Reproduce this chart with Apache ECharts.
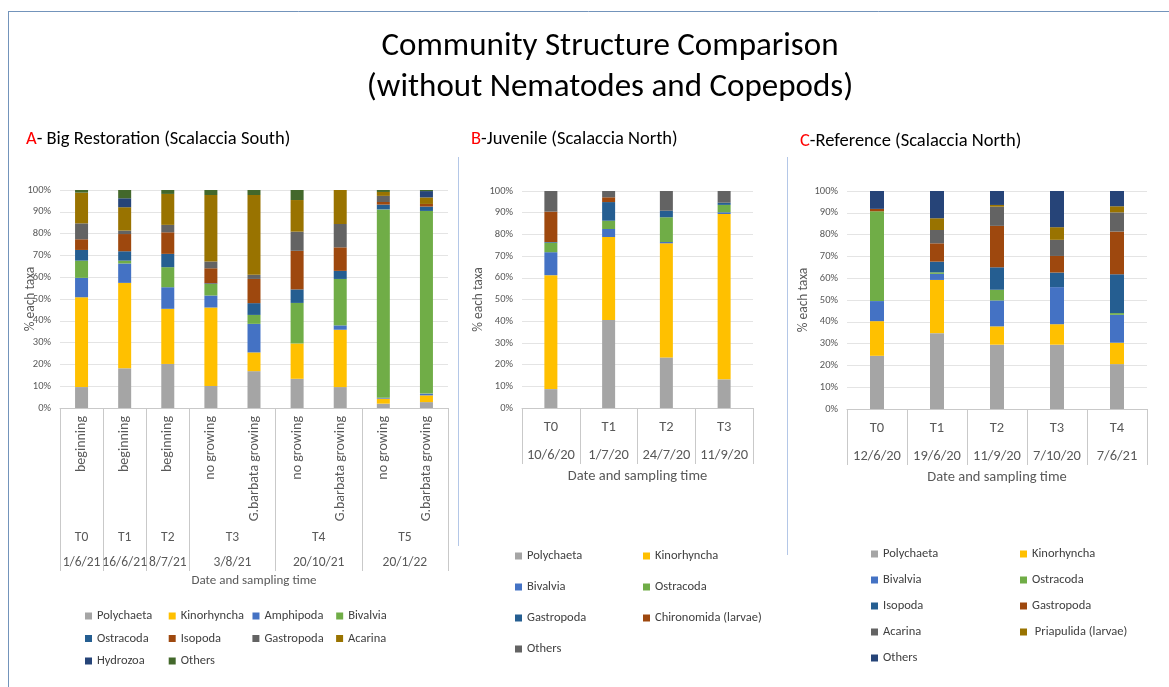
<!DOCTYPE html>
<html>
<head>
<meta charset="utf-8">
<script src="https://cdn.jsdelivr.net/npm/echarts@6/dist/echarts.min.js"></script>
<style>
  html, body { margin: 0; padding: 0; background: #ffffff; }
  #chart { width: 1169px; height: 687px; }
</style>
</head>
<body>
<div id="chart"></div>
<script>
const FONT = 'Carlito, Lato, "Noto Sans", sans-serif';

// ---------- A - Big Restoration (Scalaccia South) ----------
const taxaA = ['Polychaeta', 'Kinorhyncha', 'Amphipoda', 'Bivalvia', 'Ostracoda',
               'Isopoda', 'Gastropoda', 'Acarina', 'Hydrozoa', 'Others'];
const samplesA = ['beginning', 'beginning', 'beginning', 'no growing', 'G.barbata growing',
                  'no growing', 'G.barbata growing', 'no growing', 'G.barbata growing'];
const timesA = ['T0', 'T1', 'T2', 'T3', 'T4', 'T5'];
const datesA = ['1/6/21', '16/6/21', '8/7/21', '3/8/21', '20/10/21', '20/1/22'];
const samplesPerTimeA = [1, 1, 1, 2, 2, 2];
// percentage of each taxon (rows follow taxaA, columns follow samplesA)
const valuesA = [
  [9.6, 18.2, 20.2, 10.1, 16.9, 13.4, 9.6, 2.0, 2.7],
  [41.2, 39.2, 25.3, 36.0, 8.6, 16.2, 26.3, 2.3, 3.1],
  [8.9, 8.9, 9.9, 5.5, 13.1, 0, 2.0, 0.4, 0.8],
  [7.9, 1.3, 9.2, 5.3, 4.1, 18.6, 21.3, 86.4, 83.8],
  [4.9, 4.3, 6.1, 0.3, 5.4, 6.2, 3.7, 2.2, 2.0],
  [4.9, 7.9, 9.9, 6.9, 11.1, 17.7, 10.8, 1.2, 1.2],
  [7.3, 1.6, 3.4, 3.1, 1.9, 8.8, 10.7, 2.8, 0],
  [14.1, 10.7, 14.2, 30.5, 36.6, 14.5, 15.6, 1.8, 3.0],
  [0, 4.1, 0, 0, 0, 0, 0, 0, 2.9],
  [1.2, 3.8, 1.8, 2.3, 2.3, 4.6, 0, 0.9, 0.5]
];
const colorsA = ['#A5A5A5', '#FFC000', '#4472C4', '#70AD47', '#255E91',
                 '#9E480E', '#636363', '#997300', '#264478', '#43682B'];

// ---------- B - Juvenile (Scalaccia North) ----------
const taxaB = ['Polychaeta', 'Kinorhyncha', 'Bivalvia', 'Ostracoda', 'Gastropoda',
               'Chironomida (larvae)', 'Others'];
const timesB = ['T0', 'T1', 'T2', 'T3'];
const datesB = ['10/6/20', '1/7/20', '24/7/20', '11/9/20'];
const valuesB = [
  [8.7, 40.6, 23.3, 13.2],
  [52.5, 38.2, 52.6, 76.2],
  [10.6, 3.7, 0.6, 0.8],
  [4.4, 3.8, 11.4, 3.4],
  [0.3, 8.6, 3.0, 1.0],
  [14.0, 2.2, 0, 0],
  [9.5, 2.9, 9.1, 5.4]
];
const colorsB = ['#A5A5A5', '#FFC000', '#4472C4', '#70AD47', '#255E91', '#9E480E', '#636363'];

// ---------- C - Reference (Scalaccia North) ----------
const taxaC = ['Polychaeta', 'Kinorhyncha', 'Bivalvia', 'Ostracoda', 'Isopoda',
               'Gastropoda', 'Acarina', ' Priapulida (larvae)', 'Others'];
const timesC = ['T0', 'T1', 'T2', 'T3', 'T4'];
const datesC = ['12/6/20', '19/6/20', '11/9/20', '7/10/20', '7/6/21'];
const valuesC = [
  [24.4, 34.8, 29.5, 29.5, 20.6],
  [15.9, 24.4, 8.4, 9.4, 9.8],
  [9.2, 2.8, 11.9, 17.0, 12.8],
  [41.2, 0.7, 4.9, 0, 0.8],
  [0, 4.9, 10.3, 6.7, 17.8],
  [1.1, 8.4, 19.0, 7.6, 19.6],
  [0, 6.1, 8.8, 7.4, 8.8],
  [0, 5.4, 0.8, 5.8, 2.8],
  [8.2, 12.5, 6.4, 16.6, 7.0]
];
const colorsC = ['#A5A5A5', '#FFC000', '#4472C4', '#70AD47', '#255E91',
                 '#9E480E', '#636363', '#997300', '#264478'];

const yTicks = [0, 10, 20, 30, 40, 50, 60, 70, 80, 90, 100];

// ---------- shared styling helpers ----------
const AXIS_GREY = '#595959';
const BOX_GREY = '#C9C9C9';

function percentAxis(gridIndex, nameGap, moveOverlap) {
  return {
    type: 'value', gridIndex, min: yTicks[0], max: yTicks[yTicks.length - 1],
    interval: yTicks[1] - yTicks[0],
    name: '% each taxa', nameLocation: 'middle', nameGap, nameMoveOverlap: moveOverlap,
    nameTextStyle: { fontFamily: FONT, fontSize: 13.5, color: AXIS_GREY },
    axisLine: { show: false }, axisTick: { show: false },
    axisLabel: { formatter: '{value}%', fontFamily: FONT, fontSize: 10.5, color: AXIS_GREY, margin: 9 },
    splitLine: { lineStyle: { color: '#E4E4E4', width: 1 } }
  };
}

function stackSeries(taxa, values, colors, xIndex, yIndex, stack, barWidth) {
  return taxa.map((name, i) => ({
    type: 'bar', name, stack, xAxisIndex: xIndex, yAxisIndex: yIndex,
    barWidth, data: values[i], itemStyle: { color: colors[i] }, emphasis: { disabled: true }
  }));
}

function legendFor(taxa, colors, left, top, colW, rowH, cols) {
  const gap = rowH - 14;
  return {
    left, top, padding: 0, orient: 'horizontal', icon: 'rect',
    itemWidth: 7, itemHeight: 7, itemGap: gap,
    width: cols * colW - gap + 40,
    selectedMode: false,
    textStyle: { fontFamily: FONT, fontSize: 12.5, color: '#404040', width: colW - 12 - gap, lineHeight: 14 },
    data: taxa.map((name, i) => ({ name, itemStyle: { color: colors[i] } }))
  };
}

// time-group boundaries and centres for panel A (in sample units)
const boundsA = [0];
samplesPerTimeA.forEach(n => boundsA.push(boundsA[boundsA.length - 1] + n));
const centresA = samplesPerTimeA.map((n, i) => boundsA[i] + n / 2);
const labelAt = (labels) => (v) => {
  const k = centresA.findIndex(c => Math.abs(c - v) < 1e-6);
  return k >= 0 ? labels[k] : '';
};

const catLabel = { fontFamily: FONT, color: AXIS_GREY, interval: 0 };
const subTitleStyle = {
  fontFamily: FONT, fontSize: 18.5, fontWeight: 'normal', color: '#000',
  rich: { r: { fontFamily: FONT, fontSize: 18.5, color: '#FF0000' } }
};

const option = {
  animation: false,
  backgroundColor: '#ffffff',
  textStyle: { fontFamily: FONT },
  title: [
    { text: '{r|A}- Big Restoration (Scalaccia South)', left: 26, top: 130, padding: 0, textStyle: subTitleStyle },
    { text: '{r|B}-Juvenile (Scalaccia North)', left: 471, top: 130, padding: 0, textStyle: subTitleStyle },
    { text: '{r|C}-Reference (Scalaccia North)', left: 800, top: 132, padding: 0, textStyle: subTitleStyle }
  ],
  graphic: [
    { type: 'text', silent: true, style: {
        text: 'Community Structure Comparison\n(without Nematodes and Copepods)',
        x: 610, y: 26, align: 'center', verticalAlign: 'top',
        fontFamily: FONT, fontSize: 33, lineHeight: 41, fill: '#000' } },
    { type: 'line', silent: true, shape: { x1: 8, y1: 11.5, x2: 1169, y2: 11.5 },
      style: { stroke: '#7394BB', lineWidth: 1 } },
    { type: 'line', silent: true, shape: { x1: 8.5, y1: 11, x2: 8.5, y2: 687 },
      style: { stroke: '#7394BB', lineWidth: 1 } },
    { type: 'line', silent: true, shape: { x1: 458.5, y1: 157, x2: 458.5, y2: 546 },
      style: { stroke: '#B4C7E7', lineWidth: 1 } },
    { type: 'line', silent: true, shape: { x1: 787.5, y1: 157, x2: 787.5, y2: 555 },
      style: { stroke: '#B4C7E7', lineWidth: 1 } }
  ],
  legend: [
    legendFor(taxaA, colorsA, 85, 609, 83.7, 22.5, 4),
    legendFor(taxaB, colorsB, 515, 549, 128, 31, 2),
    legendFor(taxaC, colorsC, 871, 547, 149, 26, 2)
  ],
  grid: [
    { left: 60, top: 190, width: 388, height: 218 },
    { left: 522, top: 191, width: 231, height: 217 },
    { left: 847, top: 191, width: 300, height: 218 }
  ],
  xAxis: [
    // A: sample names (rotated)
    { type: 'category', gridIndex: 0, data: samplesA, position: 'bottom',
      axisLine: { lineStyle: { color: BOX_GREY } }, axisTick: { show: false },
      axisLabel: { ...catLabel, fontSize: 14, rotate: 90, margin: 8 } },
    // A: sampling times with group separators
    { type: 'value', gridIndex: 0, min: 0, max: boundsA[boundsA.length - 1], position: 'bottom',
      axisLine: { show: false }, splitLine: { show: false },
      axisTick: { show: true, customValues: boundsA, length: 163, lineStyle: { color: BOX_GREY } },
      axisLabel: { ...catLabel, fontSize: 13.5, customValues: centresA, formatter: labelAt(timesA), margin: 123 } },
    // A: dates
    { type: 'value', gridIndex: 0, min: 0, max: boundsA[boundsA.length - 1], position: 'bottom',
      axisLine: { show: false }, splitLine: { show: false }, axisTick: { show: false },
      axisLabel: { ...catLabel, fontSize: 13.5, customValues: centresA, formatter: labelAt(datesA), margin: 148 },
      name: 'Date and sampling time', nameLocation: 'middle', nameGap: 166,
      nameTextStyle: { fontFamily: FONT, fontSize: 13, color: AXIS_GREY } },
    // B: times
    { type: 'category', gridIndex: 1, data: timesB, position: 'bottom',
      axisLine: { lineStyle: { color: BOX_GREY } },
      axisTick: { show: true, length: 56, lineStyle: { color: BOX_GREY } },
      axisLabel: { ...catLabel, fontSize: 14.5, margin: 12 } },
    // B: dates
    { type: 'category', gridIndex: 1, data: datesB, position: 'bottom',
      axisLine: { show: false }, axisTick: { show: false },
      axisLabel: { ...catLabel, fontSize: 14.5, margin: 40 },
      name: 'Date and sampling time', nameLocation: 'middle', nameGap: 61,
      nameTextStyle: { fontFamily: FONT, fontSize: 14.5, color: AXIS_GREY } },
    // C: times
    { type: 'category', gridIndex: 2, data: timesC, position: 'bottom',
      axisLine: { lineStyle: { color: BOX_GREY } },
      axisTick: { show: true, length: 56, lineStyle: { color: BOX_GREY } },
      axisLabel: { ...catLabel, fontSize: 14.5, margin: 12 } },
    // C: dates
    { type: 'category', gridIndex: 2, data: datesC, position: 'bottom',
      axisLine: { show: false }, axisTick: { show: false },
      axisLabel: { ...catLabel, fontSize: 14.5, margin: 40 },
      name: 'Date and sampling time', nameLocation: 'middle', nameGap: 61,
      nameTextStyle: { fontFamily: FONT, fontSize: 14.5, color: AXIS_GREY } }
  ],
  yAxis: [percentAxis(0, 22, false), percentAxis(1, 34, true), percentAxis(2, 34, true)],
  series: [
    ...stackSeries(taxaA, valuesA, colorsA, 0, 0, 'A', 13),
    ...stackSeries(taxaB, valuesB, colorsB, 3, 1, 'B', 13),
    ...stackSeries(taxaC, valuesC, colorsC, 5, 2, 'C', 14)
  ]
};

const chart = echarts.init(document.getElementById('chart'), null, { renderer: 'canvas' });
chart.setOption(option);
</script>
</body>
</html>
